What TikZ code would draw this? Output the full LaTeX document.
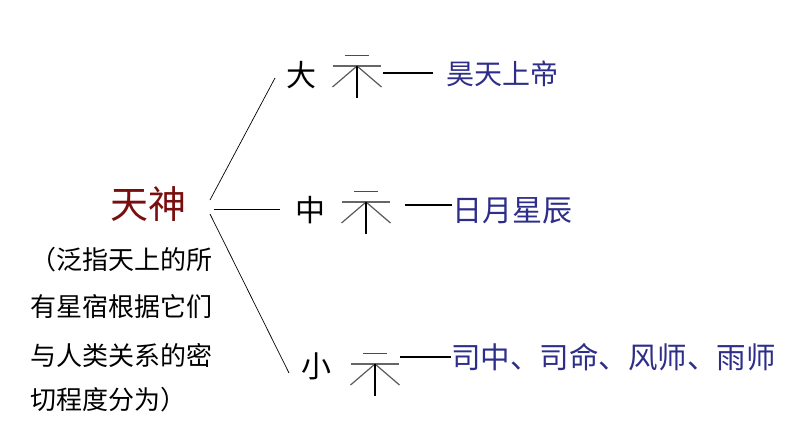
\documentclass[tikz,border=0pt]{standalone}
\usepackage{fontspec}
\newfontfamily\cjk{Noto Sans CJK SC}
\definecolor{darkred}{RGB}{122,14,14}
\definecolor{navy}{RGB}{46,46,138}
\definecolor{stroke}{RGB}{120,120,120}

\begin{document}
\begin{tikzpicture}[x=1pt, y=-1pt,
      txt/.style={inner sep=0, font=\cjk\fontsize{#1}{#1}\selectfont},
      branch/.style={draw, line width=0.7pt},
      dashline/.style={draw, stroke, line width=1.3pt},
      shi/.pic={
        \draw[line width=1.3pt, black!70] (-12,-10.5) -- (11.5,-10.5);
        \draw[line width=1.3pt, black!60] (-24.5,0) -- (24,0);
        \draw[line width=1.2pt, black!65] (-24.5,21) -- (0,0) -- (24.5,21);
        \draw[line width=1.3pt, stroke] (0,0) -- (0,32);
      }
    ]
      \useasboundingbox (0,0) rectangle (794,447);

      % Heavenly gods
      \node[txt=38, darkred] (tianshen) at (148,204) {天神};
      \node[txt=26, anchor=west] (desc1) at (30,260) {（泛指天上的所};
      \node[txt=26, anchor=west] (desc2) at (30,307) {有星宿根据它们};
      \node[txt=26, anchor=west] (desc3) at (30,355) {与人类关系的密};
      \node[txt=26, anchor=west] (desc4) at (30,400) {切程度分为）};

      % Ranks
      \node[txt=30] (da) at (301,75) {大};
      \node[txt=30] (zhong) at (310,210) {中};
      \node[txt=30] (xiao) at (316,366) {小};

      \pic at (357,66) {shi};
      \pic at (366,202) {shi};
      \pic at (375,364) {shi};

      % Gods of each rank
      \node[txt=28, navy, anchor=west] (haotian) at (446,74) {昊天上帝};
      \node[txt=30, navy, anchor=west] (riyue) at (452,211) {日月星辰};
      \node[txt=29.5, navy, anchor=west] (siming) at (451,357) {司中、司命、风师、雨师};

      % Branches
      \coordinate (hubA) at (210,200);
      \coordinate (hubB) at (214,209);
      \coordinate (hubC) at (210,214);
      \coordinate (endA) at (275,78);
      \coordinate (endB) at (280,209);
      \coordinate (endC) at (289,373);
      \draw[branch] (hubA) -- (endA);
      \draw[branch] (hubB) -- (endB);
      \draw[branch] (hubC) -- (endC);

      % Dashes
      \coordinate (dashA) at (383,73);
      \coordinate (dashB) at (405,205);
      \coordinate (dashC) at (400,357);
      \draw[dashline] (dashA) -- ([xshift=-13pt]dashA -| haotian.west);
      \draw[dashline] (dashB) -- (dashB -| riyue.west);
      \draw[dashline] (dashC) -- (dashC -| siming.west);
    \end{tikzpicture}
\end{document}
